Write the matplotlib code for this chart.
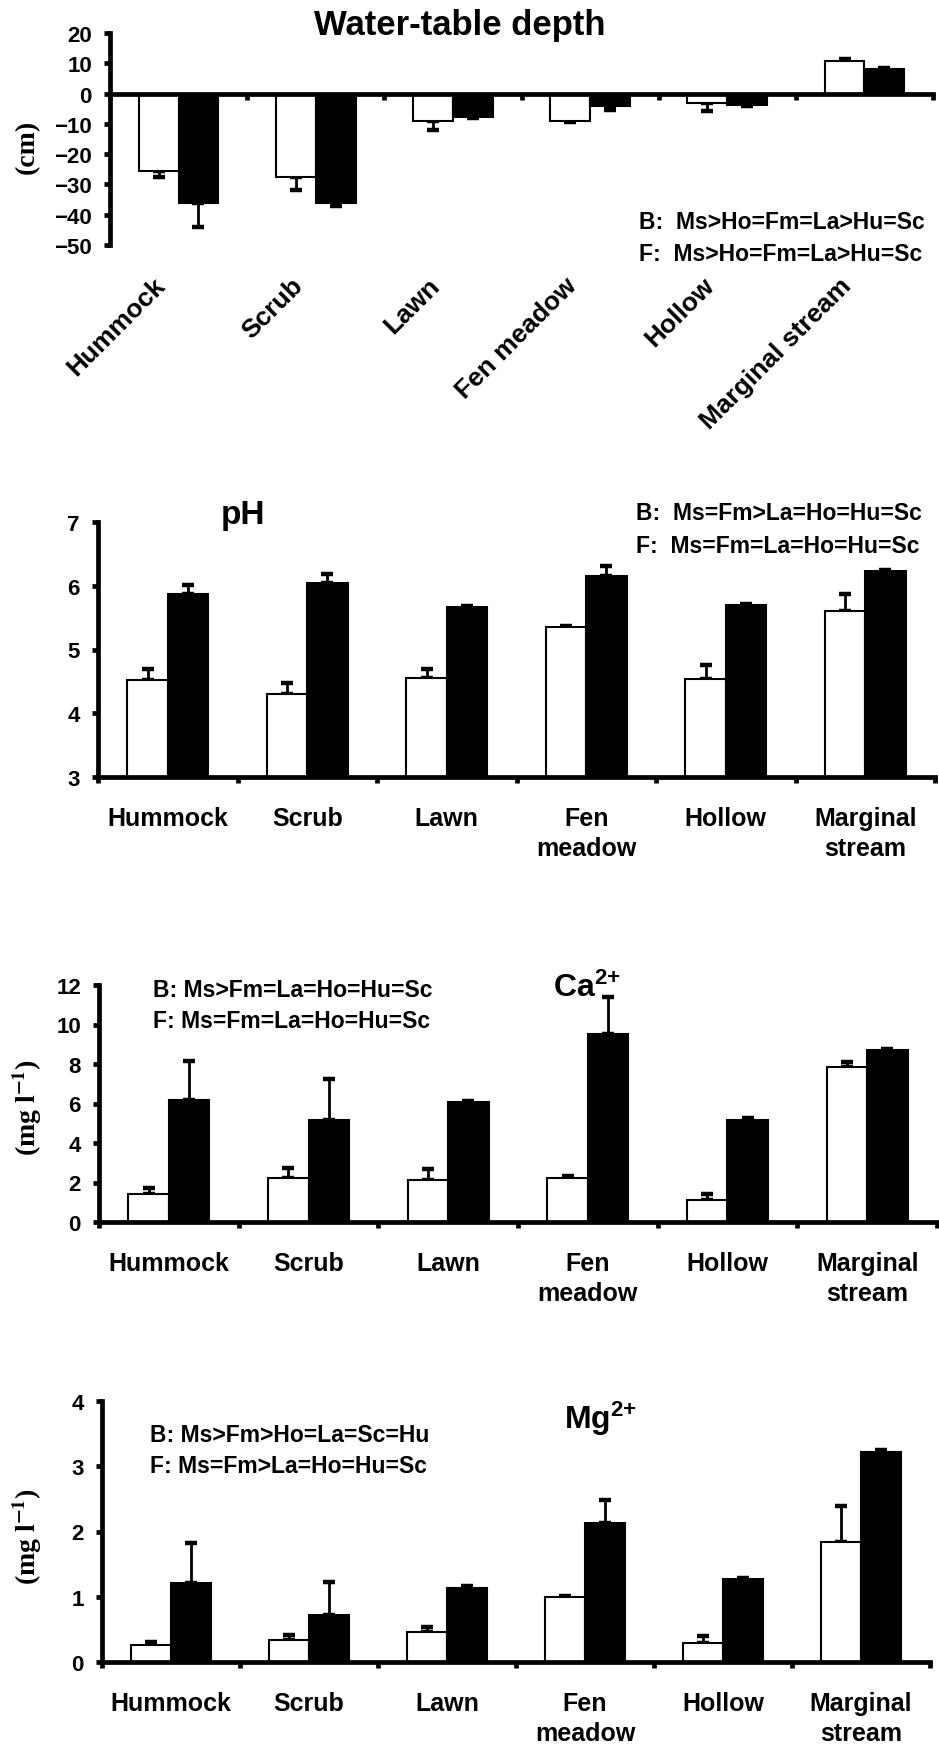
import numpy as np
import matplotlib
matplotlib.use('Agg')
import matplotlib.pyplot as plt
import matplotlib.transforms as mtransforms

plt.rcParams['font.family'] = ['Liberation Sans', 'DejaVu Sans']
plt.rcParams['font.weight'] = 'bold'
plt.rcParams['mathtext.fontset'] = 'custom'
plt.rcParams['mathtext.rm'] = 'Liberation Sans:bold'
plt.rcParams['mathtext.it'] = 'Liberation Sans:bold'
plt.rcParams['mathtext.bf'] = 'Liberation Sans:bold'

habitats = ['Hummock', 'Scrub', 'Lawn', 'Fen meadow', 'Hollow', 'Marginal stream']
habitats_2line = ['Hummock', 'Scrub', 'Lawn', 'Fen\nmeadow', 'Hollow', 'Marginal\nstream']

# B = white bars, F = black bars
wt_b = [-25.5, -27.5, -9.0, -9.0, -3.2, 10.9]
wt_b_err = [2.0, 4.5, 3.0, 0.4, 2.6, 0.6]
wt_f = [-36.1, -36.0, -7.7, -4.0, -3.8, 8.2]
wt_f_err = [8.0, 1.0, 0.4, 1.5, 0.3, 0.4]

ph_b = [4.52, 4.30, 4.55, 5.35, 4.54, 5.60]
ph_b_err = [0.17, 0.17, 0.15, 0.02, 0.21, 0.27]
ph_f = [5.87, 6.05, 5.66, 6.16, 5.70, 6.23]
ph_f_err = [0.14, 0.13, 0.02, 0.15, 0.02, 0.02]

ca_b = [1.43, 2.24, 2.15, 2.24, 1.13, 7.83]
ca_b_err = [0.30, 0.48, 0.51, 0.08, 0.30, 0.25]
ca_f = [6.19, 5.17, 6.09, 9.53, 5.17, 8.72]
ca_f_err = [1.97, 2.07, 0.06, 1.88, 0.08, 0.06]

mg_b = [0.255, 0.34, 0.465, 0.99, 0.286, 1.84]
mg_b_err = [0.055, 0.08, 0.065, 0.02, 0.11, 0.55]
mg_f = [1.21, 0.715, 1.14, 2.125, 1.27, 3.22]
mg_f_err = [0.61, 0.515, 0.025, 0.355, 0.02, 0.03]

W, H = 939, 1749
fig = plt.figure(figsize=(W / 100, H / 100), dpi=100)


def box(left, right, top, bottom):
    return [left / W, 1 - bottom / H, (right - left) / W, (bottom - top) / H]


x = np.arange(len(habitats))
bounds = np.arange(len(habitats) + 1) - 0.5
w = 0.29
LW = 3.4


def one_sided(vals, errs):
    vals = np.array(vals)
    errs = np.array(errs)
    lo = np.where(vals < 0, errs, 0)
    hi = np.where(vals >= 0, errs, 0)
    return [lo, hi]


def panel(rect, b, be, f, fe, ylim, yticks):
    ax = fig.add_axes(rect)
    ax.bar(x - w / 2, b, w, color='white', edgecolor='black', linewidth=1.5, zorder=2)
    ax.bar(x + w / 2, f, w, color='black', edgecolor='black', linewidth=1.5, zorder=2)
    for xx, v, e in [(x - w / 2, b, be), (x + w / 2, f, fe)]:
        ax.errorbar(xx, v, yerr=one_sided(v, e), fmt='none', ecolor='black',
                    elinewidth=2.0, capsize=4.5, capthick=3.2, zorder=1)
    ax.set_xlim(-0.5, 5.5)
    ax.set_ylim(*ylim)
    ax.set_yticks(yticks)
    for s in ['top', 'right']:
        ax.spines[s].set_visible(False)
    ax.spines['left'].set_linewidth(LW)
    ax.spines['bottom'].set_linewidth(LW)
    ax.spines['bottom'].set_zorder(3)
    ax.set_xticks(bounds)
    ax.set_xticklabels([])
    ax.tick_params(axis='x', which='major', direction='out', length=4.5, width=LW)
    ax.tick_params(axis='y', direction='out', length=4, width=LW, pad=9, labelsize=16)
    for lab in ax.get_yticklabels():
        lab.set_fontweight('bold')
    return ax


def stats(ax, xa, ya1, ya2, s1, s2):
    ax.text(xa, ya1, s1, transform=ax.transAxes, fontsize=16.5, fontweight='bold',
            ha='left', va='center')
    ax.text(xa, ya2, s2, transform=ax.transAxes, fontsize=16.5, fontweight='bold',
            ha='left', va='center')


def ylab(ypix, s):
    t = fig.text(27 / W, 1 - ypix / H, s, rotation=90, ha='center', va='center',
                 fontsize=20, fontweight='bold', family=['Liberation Serif', 'DejaVu Serif'])
    t.set_math_fontfamily('stix')


# --- water-table depth ---
ax1 = panel(box(110, 933, 34, 246), wt_b, wt_b_err, wt_f, wt_f_err, (-50, 20),
            np.arange(-50, 21, 10))
ax1.spines['bottom'].set_position(('data', 0))
ax1.set_xticks(x, habitats, minor=True)
ax1.tick_params(axis='x', which='minor', length=0, pad=135)
shift = mtransforms.ScaledTranslation(-0.17, 0, fig.dpi_scale_trans)
for lab in ax1.get_xticklabels(minor=True):
    lab.set_rotation(45)
    lab.set_ha('right')
    lab.set_va('center')
    lab.set_rotation_mode('anchor')
    lab.set_fontsize(19)
    lab.set_fontweight('bold')
    lab.set_transform(lab.get_transform() + shift)
ax1.text(0.425, 1.04, 'Water-table depth', transform=ax1.transAxes, fontsize=25,
         fontweight='bold', ha='center', va='center')
stats(ax1, 0.643, 0.113, -0.042, 'B:  Ms>Ho=Fm=La>Hu=Sc', 'F:  Ms>Ho=Fm=La>Hu=Sc')
ylab(147, '(cm)')


def bottom_labels(ax):
    ax.set_xticks(x, habitats_2line, minor=True)
    ax.tick_params(axis='x', which='minor', length=0, pad=21)
    for lab in ax.get_xticklabels(minor=True):
        lab.set_fontsize(18)
        lab.set_fontweight('bold')
        lab.set_linespacing(1.3)


# --- pH ---
ax2 = panel(box(98, 935, 523, 778), ph_b, ph_b_err, ph_f, ph_f_err, (3, 7), np.arange(3, 8))
bottom_labels(ax2)
ax2.text(0.173, 1.03, 'pH', transform=ax2.transAxes, fontsize=24, fontweight='bold',
         ha='center', va='center')
stats(ax2, 0.643, 1.039, 0.906, 'B:  Ms=Fm>La=Ho=Hu=Sc', 'F:  Ms=Fm=La=Ho=Hu=Sc')

# --- Ca ---
ax3 = panel(box(99, 937, 986, 1223), ca_b, ca_b_err, ca_f, ca_f_err, (0, 12), np.arange(0, 13, 2))
bottom_labels(ax3)
ax3.text(0.542, 0.954, r'Ca$^{2{+}}$', transform=ax3.transAxes, fontsize=23,
         fontweight='bold', ha='left', va='baseline')
stats(ax3, 0.064, 0.983, 0.852, 'B: Ms>Fm=La=Ho=Hu=Sc', 'F: Ms=Fm=La=Ho=Hu=Sc')
ylab(1107, r'(mg l$^{\mathbf{-1}}$)')

# --- Mg ---
ax4 = panel(box(102, 930, 1402, 1663), mg_b, mg_b_err, mg_f, mg_f_err, (0, 4), np.arange(0, 5))
bottom_labels(ax4)
ax4.text(0.558, 0.895, r'Mg$^{2{+}}$', transform=ax4.transAxes, fontsize=23,
         fontweight='bold', ha='left', va='baseline')
stats(ax4, 0.058, 0.870, 0.751, 'B: Ms>Fm>Ho=La=Sc=Hu', 'F: Ms=Fm>La=Ho=Hu=Sc')
ylab(1536, r'(mg l$^{\mathbf{-1}}$)')

fig.savefig('out.png', dpi=100)
